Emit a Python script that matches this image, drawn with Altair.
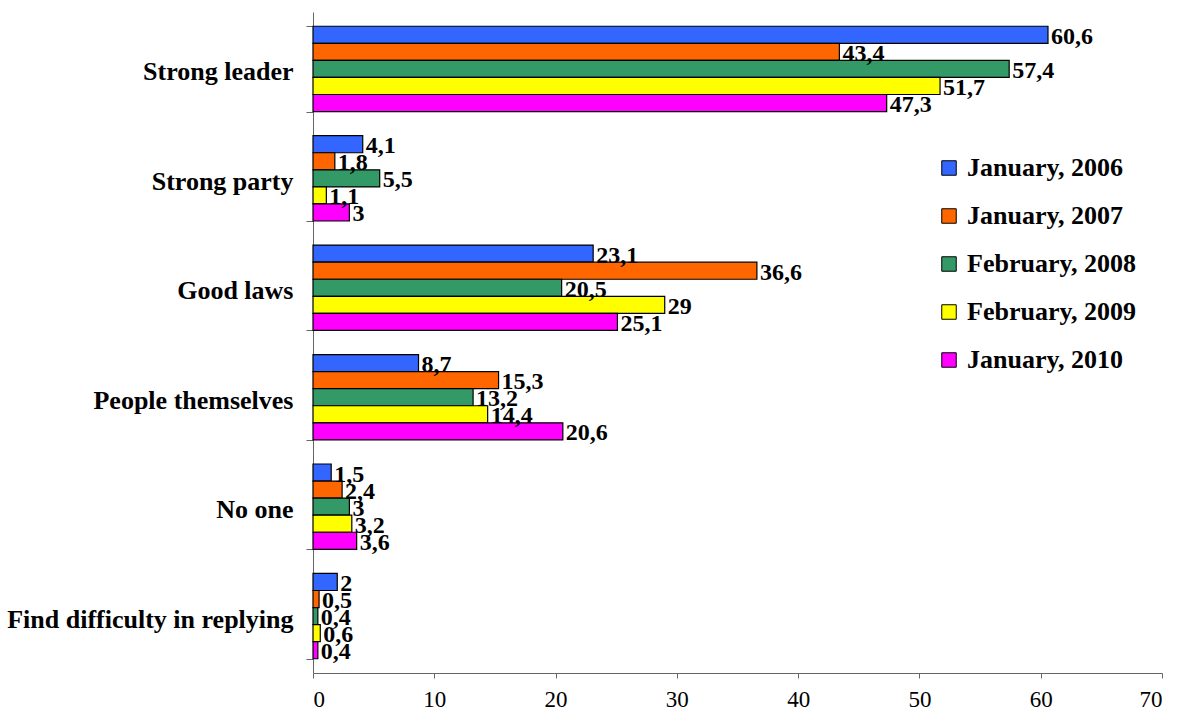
import altair as alt
import pandas as pd

# Survey answers, one row per category, one value per survey wave
categories = [
    "Strong leader",
    "Strong party",
    "Good laws",
    "People themselves",
    "No one",
    "Find difficulty in replying",
]
waves = [
    "January, 2006",
    "January, 2007",
    "February, 2008",
    "February, 2009",
    "January, 2010",
]
jan_2006 = [60.6, 4.1, 23.1, 8.7, 1.5, 2]
jan_2007 = [43.4, 1.8, 36.6, 15.3, 2.4, 0.5]
feb_2008 = [57.4, 5.5, 20.5, 13.2, 3, 0.4]
feb_2009 = [51.7, 1.1, 29, 14.4, 3.2, 0.6]
jan_2010 = [47.3, 3, 25.1, 20.6, 3.6, 0.4]
wave_colors = ["#3366FF", "#FF6600", "#339966", "#FFFF00", "#FF00FF"]

series = [jan_2006, jan_2007, feb_2008, feb_2009, jan_2010]
rows = []
for wave, values in zip(waves, series):
    for cat, v in zip(categories, values):
        rows.append({"category": cat, "wave": wave, "value": v})
df = pd.DataFrame(rows)

FONT = "Liberation Serif"

y_enc = alt.Y(
    "category:N",
    sort=categories,
    scale=alt.Scale(paddingInner=0.22, paddingOuter=0.13),
    axis=alt.Axis(
        title=None,
        labelFont=FONT,
        labelFontWeight="bold",
        labelFontSize=26,
        labelColor="black",
        labelPadding=13,
        labelLimit=400,
        labelOffset=3,
        tickBand="extent",
        tickSize=7,
        tickColor="#666666",
        domainColor="#666666",
    ),
)
x_enc = alt.X(
    "value:Q",
    scale=alt.Scale(domain=[0, 70], nice=False),
    axis=alt.Axis(
        title=None,
        values=[0, 10, 20, 30, 40, 50, 60, 70],
        grid=False,
        labelFont=FONT,
        labelFontSize=23,
        labelColor="black",
        labelPadding=10,
        tickSize=5,
        tickColor="#666666",
        domainColor="#666666",
    ),
)
y_off = alt.YOffset("wave:N", sort=waves, scale=alt.Scale(paddingInner=0, paddingOuter=0))

bars = alt.Chart(df).mark_bar(stroke="black", strokeWidth=1.2).encode(
    x=x_enc,
    y=y_enc,
    yOffset=y_off,
    color=alt.Color(
        "wave:N",
        sort=waves,
        scale=alt.Scale(domain=waves, range=wave_colors),
        legend=alt.Legend(
            title=None,
            orient="none",
            legendX=623,
            legendY=143,
            padding=0,
            symbolType="square",
            symbolSize=210,
            symbolStrokeColor="black",
            symbolStrokeWidth=1,
            labelFont=FONT,
            labelFontWeight="bold",
            labelFontSize=26,
            labelColor="black",
            labelOffset=5,
            rowPadding=22,
            labelLimit=400,
        ),
    ),
)

labels = alt.Chart(df).transform_calculate(
    label="replace(toString(datum.value), '.', ',')"
).mark_text(
    align="left",
    baseline="middle",
    dx=3,
    dy=2,
    font=FONT,
    fontWeight="bold",
    fontSize=24,
    color="black",
).encode(
    x="value:Q",
    y=alt.Y("category:N", sort=categories),
    yOffset=alt.YOffset("wave:N", sort=waves),
    text="label:N",
)

chart = (
    alt.layer(bars, labels)
    .properties(
        width=849,
        height=661,
        autosize=alt.AutoSizeParams(type="none"),
        padding={"left": 313, "top": 12, "right": 20, "bottom": 40},
    )
    .configure(
        background="white",
        view=alt.ViewConfig(stroke="transparent", strokeWidth=0, strokeOpacity=0),
    )
)

chart.save("out.html", embed_options={"renderer": "svg", "actions": False})
